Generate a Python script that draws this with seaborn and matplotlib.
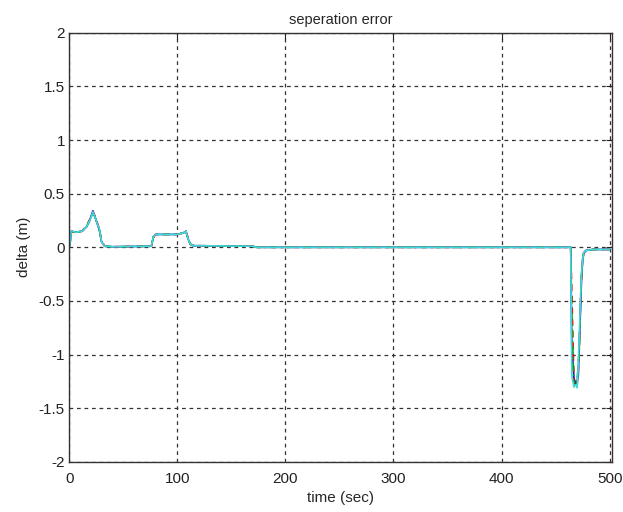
import numpy as np
import pandas as pd
import seaborn as sns
import matplotlib
matplotlib.use("Agg")
import matplotlib.pyplot as plt

# time samples (sec)
time_sec = [0, 1, 2, 6, 12, 16, 19, 21, 22, 24, 26, 28, 30, 33, 40,
            76, 78, 80, 100, 104, 107, 108, 110, 112, 115, 170, 173,
            464, 465, 467, 469, 470, 471, 472, 473, 474, 475, 476, 478, 485, 500]

# separation error of each follower (m)
err_blue = [0, 0.05, 0.15, 0.14, 0.15, 0.19, 0.25, 0.31, 0.34, 0.28, 0.22, 0.16, 0.05, 0.01, 0.005,
            0.01, 0.10, 0.12, 0.12, 0.13, 0.14, 0.15, 0.08, 0.03, 0.015, 0.01, 0.0,
            0, -0.9, -1.22, -1.28, -1.25, -1.2, -0.9, -0.6, -0.3, -0.13, -0.06, -0.03, -0.02, -0.02]
err_red = [0, 0.06, 0.14, 0.14, 0.15, 0.20, 0.26, 0.30, 0.33, 0.29, 0.23, 0.17, 0.06, 0.01, 0.005,
           0.01, 0.09, 0.12, 0.12, 0.13, 0.14, 0.15, 0.09, 0.03, 0.015, 0.01, 0.0,
           0, -0.4, -1.25, -1.3, -1.27, -1.15, -0.85, -0.55, -0.28, -0.12, -0.05, -0.03, -0.02, -0.02]
err_green = [0, 0.05, 0.15, 0.14, 0.15, 0.19, 0.25, 0.30, 0.32, 0.28, 0.22, 0.16, 0.05, 0.01, 0.005,
             0.01, 0.10, 0.12, 0.12, 0.13, 0.14, 0.14, 0.08, 0.03, 0.015, 0.01, 0.0,
             0, -0.6, -1.3, -1.26, -1.22, -1.1, -0.95, -0.5, -0.25, -0.11, -0.05, -0.03, -0.02, -0.02]
err_cyan = [0, 0.06, 0.15, 0.14, 0.15, 0.19, 0.25, 0.30, 0.33, 0.28, 0.22, 0.17, 0.05, 0.01, 0.005,
            0.01, 0.10, 0.12, 0.12, 0.13, 0.14, 0.15, 0.08, 0.03, 0.015, 0.01, 0.0,
            0, -1.2, -1.3, -1.28, -1.31, -1.1, -0.8, -0.5, -0.25, -0.12, -0.05, -0.03, -0.02, -0.02]

y_ticks = [-2, -1.5, -1, -0.5, 0, 0.5, 1, 1.5, 2]
y_tick_labels = ["-2", "-1.5", "-1", "-0.5", "0", "0.5", "1", "1.5", "2"]
x_ticks = [0, 100, 200, 300, 400, 500]

sns.set_style("white")
plt.rcParams['font.family'] = ['Liberation Sans', 'DejaVu Sans']

fig = plt.figure(figsize=(6.23, 5.12), dpi=100)
ax = fig.add_axes([0.111, 0.098, 0.871, 0.838])

series = [(err_blue, "#0000ff", "-"), (err_red, "#ff0000", (0, (4, 3))),
          (err_green, "#00a000", (0, (5, 2, 1, 2))), (err_cyan, "#40d8d8", "-")]
for vals, col, ls in series:
    sns.lineplot(x=time_sec, y=vals, ax=ax, color=col, linestyle=ls, linewidth=1.2,
                 sort=False, estimator=None)

ax.set_xlim(0, 502)
ax.set_ylim(-2, 2)
ax.set_xticks(x_ticks)
ax.set_yticks(y_ticks)
ax.set_yticklabels(y_tick_labels)
ax.grid(True, color="#333333", linestyle=(0, (3, 3)), linewidth=0.9)
ax.tick_params(direction="in", length=4, labelsize=11, colors="#222222",
               top=True, right=True, pad=3)
ax.tick_params(axis="x", pad=7)
for s in ax.spines.values():
    s.set_color("#333333")
    s.set_linewidth(1.0)

ax.set_title("seperation error", fontsize=10.5, pad=6)
ax.set_xlabel("time (sec)", fontsize=11, labelpad=4)
ax.set_ylabel("delta (m)", fontsize=11, labelpad=6)

fig.savefig("out.png", dpi=100, facecolor="white")
